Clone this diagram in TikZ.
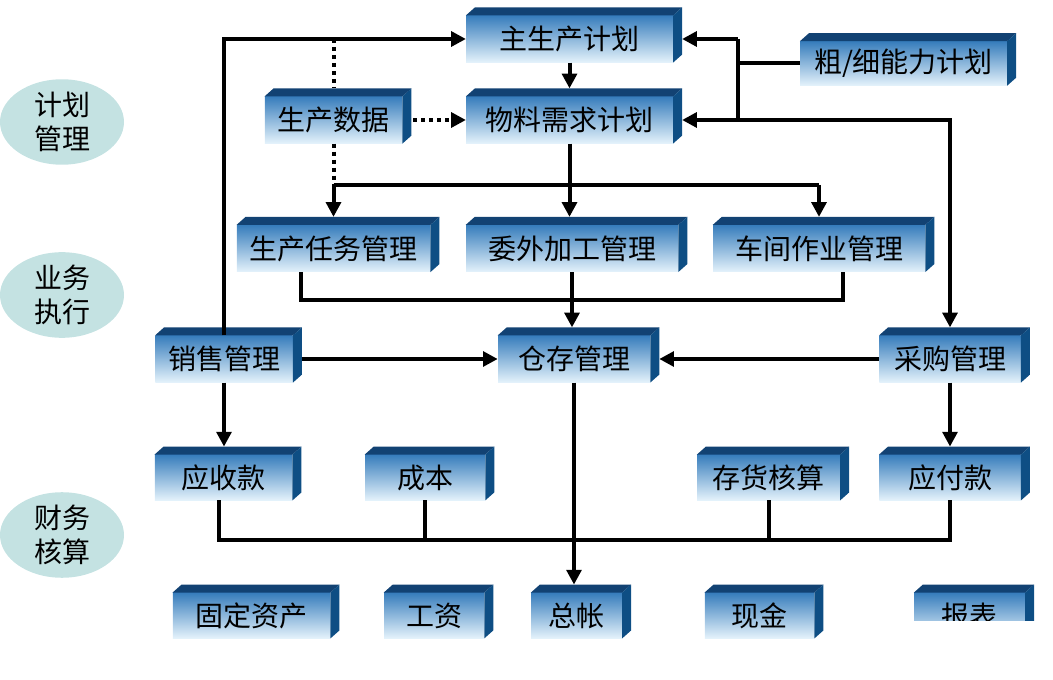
\documentclass[tikz,border=0pt]{standalone}
\usepackage{fontspec}
\newfontfamily\cjk{Noto Sans CJK SC}
\usetikzlibrary{shapes.geometric,arrows.meta,calc}
\definecolor{ovalfill}{RGB}{196,226,226}
\definecolor{topface}{RGB}{18,66,115}
\definecolor{sideface}{RGB}{14,78,132}
\definecolor{fronttop}{RGB}{55,125,188}
\definecolor{frontbot}{RGB}{228,242,251}
\tikzset{
  cubebox/.style={rectangle, inner sep=0pt, top color=fronttop, bottom color=frontbot,
    font=\cjk\fontsize{21}{24}\selectfont, text=black},
  oval/.style={ellipse, fill=ovalfill, minimum width=93pt, minimum height=60pt, inner sep=0pt,
    align=center, font=\cjk\fontsize{21}{26}\selectfont},
  line/.style={line width=3pt, draw=black},
  arr/.style={line, -{Triangle[length=11pt,width=11pt]}},
  dotline/.style={line width=3pt, draw=black, dash pattern=on 3pt off 3pt},
}
\newcommand{\cubefaces}[1]{%
  \fill[topface] (#1.north west) -- ++(9,-8) -- ($(#1.north east)+(9,-8)$) -- (#1.north east) -- cycle;
  \fill[sideface] (#1.north east) -- ++(9,-8) -- ($(#1.south east)+(9,-8)$) -- (#1.south east) -- cycle;
}
\begin{document}
\begin{tikzpicture}[x=0.75pt,y=-0.75pt]
\useasboundingbox (0,0) rectangle (1053,680);
% ovals
\node[oval] (e1) at (62,122) {计划\\管理};
\node[oval] (e2) at (62,295) {业务\\执行};
\node[oval] (e3) at (62,535) {财务\\核算};
% boxes (front faces)
\node[cubebox, minimum width=155pt, minimum height=35pt] (mps) at (569.5,39) {主生产计划};
\node[cubebox, minimum width=155pt, minimum height=35pt] (mrp) at (569.5,120) {物料需求计划};
\node[cubebox, minimum width=155pt, minimum height=33pt] (cap) at (903.5,63.5) {粗/细能力计划};
\node[cubebox, minimum width=103pt, minimum height=35pt] (pdata) at (333.5,120) {生产数据};
\node[cubebox, minimum width=145pt, minimum height=35pt] (task) at (333.5,248.5) {生产任务管理};
\node[cubebox, minimum width=159pt, minimum height=35pt] (outs) at (572,248.5) {委外加工管理};
\node[cubebox, minimum width=159pt, minimum height=35pt] (shop) at (819,248.5) {车间作业管理};
\node[cubebox, minimum width=103pt, minimum height=35pt] (sales) at (224,359) {销售管理};
\node[cubebox, minimum width=114pt, minimum height=35pt] (inv) at (574,359) {仓存管理};
\node[cubebox, minimum width=106pt, minimum height=35pt] (pur) at (950,359) {采购管理};
\node[cubebox, minimum width=103pt, minimum height=34pt] (ar) at (223.5,477.5) {应收款};
\node[cubebox, minimum width=90pt, minimum height=34pt] (cost) at (425,477.5) {成本};
\node[cubebox, minimum width=107pt, minimum height=34pt] (ica) at (768.5,477.5) {存货核算};
\node[cubebox, minimum width=106pt, minimum height=34pt] (ap) at (950,477.5) {应付款};
\node[cubebox, minimum width=118pt, minimum height=34pt] (fa) at (251.5,615.5) {固定资产};
\node[cubebox, minimum width=75pt, minimum height=34pt] (wage) at (434,615.5) {工资};
\node[cubebox, minimum width=68pt, minimum height=34pt] (gl) at (576.5,615.5) {总帐};
\node[cubebox, minimum width=82pt, minimum height=34pt] (cash) at (759.5,615.5) {现金};
\begin{scope}
\clip (880,560) rectangle (1053,620);
\node[cubebox, minimum width=83pt, minimum height=34pt] (rep) at (969.5,615.5) {报表};
\cubefaces{rep}
\end{scope}
\foreach \n in {mps,mrp,cap,pdata,task,outs,shop,sales,inv,pur,ar,cost,ica,ap,fa,wage,gl,cash}{\cubefaces{\n}}
% connectors
\coordinate (v) at (738,0);
\coordinate (b1) at (0,185);
\draw[arr] (sales.north) |- (mps.west);
\draw[arr] (mps.south) -- ($(mrp.north)+(0,-8)$);
\draw[line] (cap.west) -- (cap.west -| v);
\draw[line] (v |- mps.east) -- (v |- mrp.east);
\draw[arr] (v |- mps.east) -- ($(mps.east)+(9,0)$);
\draw[arr] (v |- mrp.east) -- ($(mrp.east)+(9,0)$);
\draw[arr] (v |- mrp.east) -| ($(pur.north)+(0,-8)$);
\draw[dotline] (pdata.north |- mps.west) -- ($(pdata.north)+(0,-8)$);
\draw[dotline] (pdata.south) -- (pdata.south |- b1);
\draw[dotline, -{Triangle[length=11pt,width=11pt]}] ($(pdata.east)+(11,0)$) -- (mrp.west);
\draw[line] (mrp.south) -- (mrp.south |- b1);
\draw[line] (task.north |- b1) -- (shop.north |- b1);
\draw[arr] (task.north |- b1) -- ($(task.north)+(0,-8)$);
\draw[arr] (mrp.south |- b1) -- ($(mrp.south |- outs.north)+(0,-8)$);
\draw[arr] (shop.north |- b1) -- ($(shop.north)+(0,-8)$);
\draw[line] ($(task.south)+(-33,0)$) -- ++(0,28) -| ($(shop.south)+(24,0)$);
\draw[arr] (outs.south) -- ($(inv.north)+(-2,-8)$);
\draw[arr] ($(sales.east)+(9,0)$) -- (inv.west);
\draw[arr] (pur.west) -- ($(inv.east)+(9,0)$);
\draw[arr] (sales.south) -- ($(sales.south |- ar.north)+(0,-8)$);
\draw[arr] (pur.south) -- ($(ap.north)+(0,-8)$);
\draw[arr] (inv.south) -- ($(inv.south |- gl.north)+(0,-8)$);
\draw[line] ($(ar.south)+(-5,0)$) -- ++(0,40) -| (ap.south);
\draw[line] (cost.south) -- ++(0,40);
\draw[line] (ica.south) -- ++(0,40);
\end{tikzpicture}
\end{document}
